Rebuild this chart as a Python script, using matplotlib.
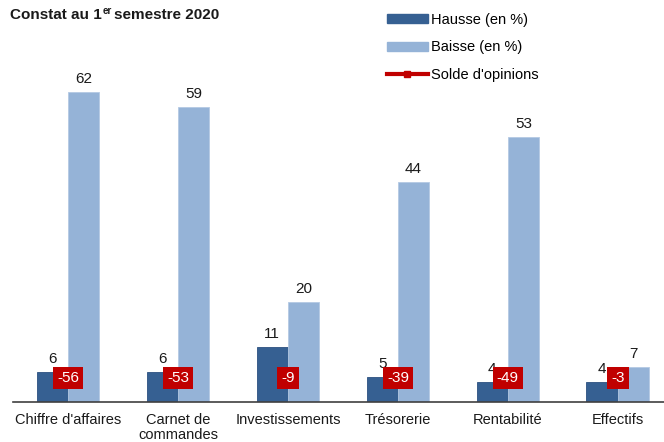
import numpy as np
import matplotlib
matplotlib.use('Agg')
import matplotlib.pyplot as plt
from matplotlib.patches import Patch
from matplotlib.lines import Line2D

plt.rcParams['font.family'] = ['Liberation Sans', 'DejaVu Sans']

categories = ["Chiffre d'affaires", "Carnet de\ncommandes", "Investissements",
              "Trésorerie", "Rentabilité", "Effectifs"]
hausse = [6, 6, 11, 5, 4, 4]
baisse = [62, 59, 20, 44, 53, 7]
solde = [-56, -53, -9, -39, -49, -3]

dark = '#366092'
light = '#95B3D7'
red = '#C00000'

fig = plt.figure(figsize=(6.64, 4.42), dpi=100)
W, H = 664, 442
# axes: bottom at y=402px, x from 13px
ax = fig.add_axes([13 / W, (H - 402) / H, (664 - 13) / W, 350 / H])

x = np.arange(len(categories))
w = 0.285
ax.bar(x - w / 2, hausse, w, color=dark, edgecolor='#2c5080', linewidth=0.6)
ax.bar(x + w / 2, baisse, w, color=light, edgecolor='#b4c9e3', linewidth=0.6)

for i in range(len(categories)):
    ax.text(x[i] - w / 2, hausse[i] + 1.2, str(hausse[i]), ha='center', va='bottom',
            fontsize=11, color='#1a1a1a')
    ax.text(x[i] + w / 2, baisse[i] + 1.2, str(baisse[i]), ha='center', va='bottom',
            fontsize=11, color='#1a1a1a')
    ax.text(x[i], 4.8, str(solde[i]), ha='center', va='center', fontsize=11,
            color='white', bbox=dict(boxstyle='square,pad=0.28', fc=red, ec='none'))

ax.set_xlim(-0.5, 5.42)
ax.set_ylim(0, 70)
for s in ['top', 'right', 'left']:
    ax.spines[s].set_visible(False)
ax.spines['bottom'].set_color('#404040')
ax.spines['bottom'].set_linewidth(1.2)
ax.set_yticks([])
ax.set_xticks(x)
ax.set_xticklabels(categories, fontsize=10.5, color='#1a1a1a', va='top', linespacing=1.1)
ax.tick_params(axis='x', length=0, pad=8)

handles = [Patch(color=dark, label='Hausse (en %)'),
           Patch(color=light, label='Baisse (en %)'),
           Line2D([0], [0], color=red, lw=3, marker='s', markersize=4, label="Solde d'opinions")]
fig.legend(handles=handles, loc='upper left', bbox_to_anchor=(387 / W, 1 - 13 / H),
           frameon=False, fontsize=10.5, handlelength=2.8, handleheight=0.6,
           handletextpad=0.25, labelspacing=0.92, borderpad=0, borderaxespad=0)

# title with small superscript
t1 = fig.text(10 / W, 1 - 15 / H, "Constat au 1", fontsize=11, fontweight='bold',
              va='center', ha='left', color='#1a1a1a')
fig.canvas.draw()
r = fig.canvas.get_renderer()
bb = t1.get_window_extent(r)
t2 = fig.text(bb.x1 / W + 0.5 / W, 1 - 11 / H, "er", fontsize=7, fontweight='bold',
              va='center', ha='left', color='#1a1a1a')
bb2 = t2.get_window_extent(r)
fig.text(bb2.x1 / W + 3 / W, 1 - 15 / H, "semestre 2020", fontsize=11, fontweight='bold',
         va='center', ha='left', color='#1a1a1a')

fig.savefig('out.png', dpi=100)
